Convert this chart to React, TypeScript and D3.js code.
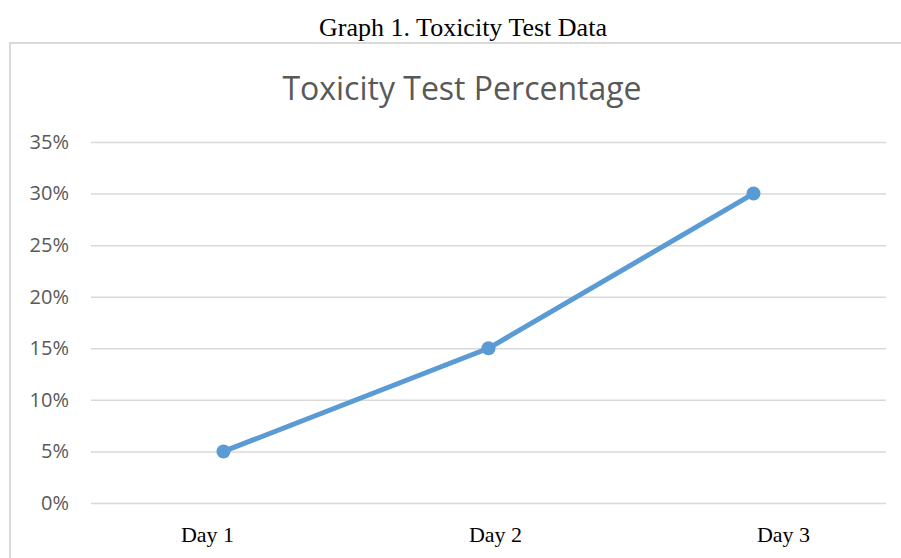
import React, { useRef, useEffect } from "react";
import * as d3 from "d3";

const days = ["Day 1", "Day 2", "Day 3"];
const toxicity = [5, 15, 30];
const yTicks = [0, 5, 10, 15, 20, 25, 30, 35];

const caption = "Graph 1. Toxicity Test Data";
const title = "Toxicity Test Percentage";

function App() {
  const svgRef = useRef<SVGSVGElement>(null);

  useEffect(() => {
    const w = 901;
    const h = 558;
    const m = { left: 91, right: 15, top: 142, bottom: 55 };
    const svg = d3.select(svgRef.current);
    svg.selectAll("*").remove();

    svg
      .append("text")
      .attr("x", 463)
      .attr("y", 36)
      .attr("text-anchor", "middle")
      .style("font-family", "'Liberation Serif', serif")
      .style("font-size", "26px")
      .attr("fill", "#000")
      .text(caption);

    // chart frame, runs off the right and bottom edges
    svg
      .append("rect")
      .attr("x", 10)
      .attr("y", 43)
      .attr("width", 900)
      .attr("height", 530)
      .attr("fill", "none")
      .attr("stroke", "#d9d9d9")
      .attr("stroke-width", 2);

    svg
      .append("text")
      .attr("x", 462)
      .attr("y", 100)
      .attr("text-anchor", "middle")
      .style("font-family", "'Open Sans', sans-serif")
      .style("font-size", "32px")
      .attr("fill", "#595959")
      .text(title);

    const x = d3
      .scalePoint()
      .domain(days)
      .range([m.left, w - m.right])
      .padding(0.5);
    const y = d3
      .scaleLinear()
      .domain([0, 35])
      .range([h - m.bottom, m.top]);

    const yAxis = d3
      .axisLeft(y)
      .tickValues(yTicks)
      .tickSize(-(w - m.left - m.right))
      .tickPadding(22)
      .tickFormat((d) => d + "%");
    const gy = svg
      .append("g")
      .attr("transform", `translate(${m.left},0)`)
      .call(yAxis);
    gy.select(".domain").remove();
    gy.selectAll("line").attr("stroke", "#d9d9d9").attr("stroke-width", 1.5);
    gy.selectAll("text")
      .attr("fill", "#595959")
      .style("font-family", "'Open Sans', sans-serif")
      .style("font-size", "20px");

    // the day labels sit on their own, wider spacing than the points
    const xLabel = d3.scalePoint().domain(days).range([207, 783]);
    const xAxis = d3.axisBottom(xLabel).tickSize(0).tickPadding(23);
    const gx = svg
      .append("g")
      .attr("transform", `translate(0,${h - m.bottom})`)
      .call(xAxis);
    gx.select(".domain").remove();
    gx.selectAll("text")
      .attr("fill", "#000")
      .style("font-family", "'Liberation Serif', serif")
      .style("font-size", "22px");

    const line = d3
      .line<number>()
      .x((d, i) => x(days[i])!)
      .y((d) => y(d));

    svg
      .append("path")
      .datum(toxicity)
      .attr("fill", "none")
      .attr("stroke", "#5b9bd5")
      .attr("stroke-width", 5)
      .attr("stroke-linecap", "round")
      .attr("d", line);

    svg
      .selectAll("circle")
      .data(toxicity)
      .join("circle")
      .attr("cx", (d, i) => x(days[i])!)
      .attr("cy", (d) => y(d))
      .attr("r", 7)
      .attr("fill", "#5b9bd5");
  }, []);

  return (
    <div style={{ position: "absolute", left: 0, top: 0 }}>
      <svg ref={svgRef} width={901} height={558} style={{ display: "block", background: "#fff" }}></svg>
    </div>
  );
}

export default App;
